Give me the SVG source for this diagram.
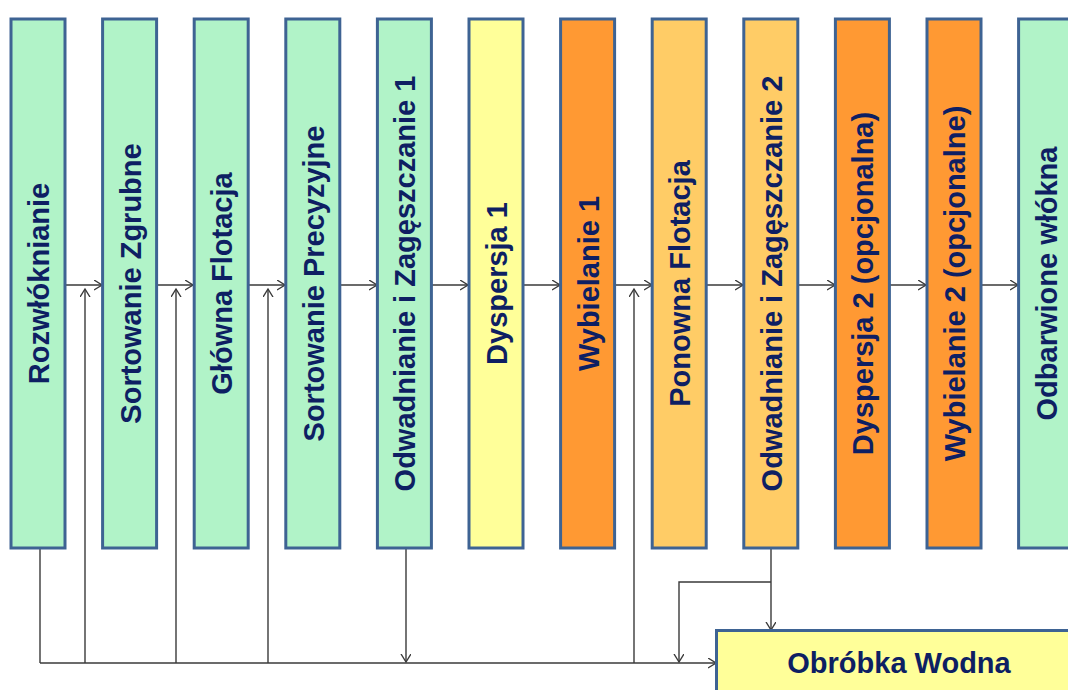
<svg xmlns="http://www.w3.org/2000/svg" width="1068" height="690" viewBox="0 0 1068 690">
<style>
.box{stroke:#3E6393;stroke-width:3}
.g{fill:#B1F3C8}.y{fill:#FFFF99}.o{fill:#FF9933}.lo{fill:#FFCC66}
.t{font-family:"Liberation Sans",Arial,sans-serif;font-weight:bold;font-size:29px;fill:#0E1F63;text-anchor:middle}
.c{fill:none;stroke:#3A3A3A;stroke-width:1.4}
</style>
<defs>
<marker id="a" markerUnits="userSpaceOnUse" markerWidth="12" markerHeight="12" refX="8" refY="5" orient="auto">
<path d="M0,0 L8,5 L0,10" fill="none" stroke="#3A3A3A" stroke-width="1.4"/>
</marker>
</defs>
<rect width="1068" height="690" fill="#fff"/>
<g id="connectors">
<path class="c" marker-end="url(#a)" d="M65,285H102"/>
<path class="c" marker-end="url(#a)" d="M157,285H193"/>
<path class="c" marker-end="url(#a)" d="M249,285H285"/>
<path class="c" marker-end="url(#a)" d="M340,285H377"/>
<path class="c" marker-end="url(#a)" d="M432,285H468"/>
<path class="c" marker-end="url(#a)" d="M523,285H560"/>
<path class="c" marker-end="url(#a)" d="M615,285H652"/>
<path class="c" marker-end="url(#a)" d="M707,285H743"/>
<path class="c" marker-end="url(#a)" d="M798,285H835"/>
<path class="c" marker-end="url(#a)" d="M890,285H926"/>
<path class="c" marker-end="url(#a)" d="M981,285H1018"/>
<path class="c" d="M40,548V663"/>
<path class="c" marker-end="url(#a)" d="M40,663H716"/>
<path class="c" marker-end="url(#a)" d="M85,663V289"/>
<path class="c" marker-end="url(#a)" d="M176,663V289"/>
<path class="c" marker-end="url(#a)" d="M268,663V289"/>
<path class="c" marker-end="url(#a)" d="M634,663V289"/>
<path class="c" marker-end="url(#a)" d="M406,548V662"/>
<path class="c" marker-end="url(#a)" d="M771,548V630"/>
<path class="c" marker-end="url(#a)" d="M771,582H679V662"/>
</g>
<g id="n1"><rect class="box g" x="11" y="19" width="54" height="529"/><text class="t" transform="translate(49,283.5) rotate(-90)">Rozwłóknianie</text></g>
<g id="n2"><rect class="box g" x="102.6" y="19" width="54" height="529"/><text class="t" transform="translate(140.6,283.5) rotate(-90)">Sortowanie Zgrubne</text></g>
<g id="n3"><rect class="box g" x="194.2" y="19" width="54" height="529"/><text class="t" transform="translate(232.2,283.5) rotate(-90)">Główna Flotacja</text></g>
<g id="n4"><rect class="box g" x="285.8" y="19" width="54" height="529"/><text class="t" transform="translate(323.8,283.5) rotate(-90)">Sortowanie Precyzyjne</text></g>
<g id="n5"><rect class="box g" x="377.4" y="19" width="54" height="529"/><text class="t" transform="translate(415.4,283.5) rotate(-90)">Odwadnianie i Zagęszczanie 1</text></g>
<g id="n6"><rect class="box y" x="469" y="19" width="54" height="529"/><text class="t" transform="translate(507,283.5) rotate(-90)">Dyspersja 1</text></g>
<g id="n7"><rect class="box o" x="560.6" y="19" width="54" height="529"/><text class="t" transform="translate(598.6,283.5) rotate(-90)">Wybielanie 1</text></g>
<g id="n8"><rect class="box lo" x="652.2" y="19" width="54" height="529"/><text class="t" transform="translate(690.2,283.5) rotate(-90)">Ponowna Flotacja</text></g>
<g id="n9"><rect class="box lo" x="743.8" y="19" width="54" height="529"/><text class="t" transform="translate(781.8,283.5) rotate(-90)">Odwadnianie i Zagęszczanie 2</text></g>
<g id="n10"><rect class="box o" x="835.4" y="19" width="54" height="529"/><text class="t" transform="translate(873.4,283.5) rotate(-90)">Dyspersja 2 (opcjonalna)</text></g>
<g id="n11"><rect class="box o" x="927" y="19" width="54" height="529"/><text class="t" transform="translate(965,283.5) rotate(-90)">Wybielanie 2 (opcjonalne)</text></g>
<g id="n12"><rect class="box g" x="1018.6" y="19" width="54" height="529"/><text class="t" transform="translate(1056.6,283.5) rotate(-90)">Odbarwione włókna</text></g>
<g id="n13"><rect class="box y" x="716.5" y="630.5" width="360" height="70"/><text class="t" x="899" y="673">Obróbka Wodna</text></g>
</svg>
